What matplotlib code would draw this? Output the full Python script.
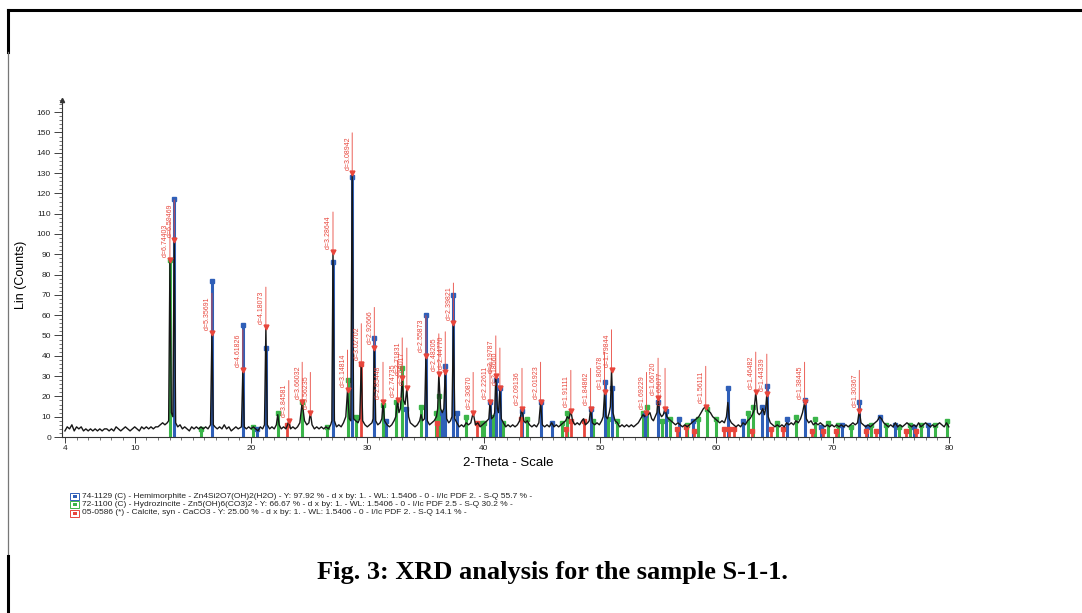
import matplotlib
matplotlib.use('Agg')
import matplotlib.pyplot as plt
from matplotlib.patches import Rectangle
from matplotlib.lines import Line2D
from matplotlib.ticker import MultipleLocator

plt.rcParams['font.family'] = ['Liberation Sans', 'DejaVu Sans']

W, H = 1082, 613

trace = [
    (4.0, 3), (4.2, 5), (4.4, 4), (4.6, 6), (4.8, 3), (5.0, 5), (5.2, 4), (5.4, 5), (5.6, 3), (5.8, 4),
    (6.0, 3), (6.2, 4), (6.4, 3), (6.6, 4), (6.8, 3), (7.0, 4), (7.2, 3), (7.4, 4), (7.6, 4), (7.8, 3),
    (8.0, 4), (8.2, 3), (8.4, 5), (8.6, 4), (8.8, 3), (9.0, 4), (9.2, 5), (9.4, 4), (9.6, 3), (9.8, 4),
    (10.0, 5), (10.2, 4), (10.4, 3), (10.6, 5), (10.8, 4), (11.0, 5), (11.2, 4), (11.4, 5), (11.6, 4),
    (11.8, 5), (12.0, 5), (12.2, 6), (12.4, 7), (12.6, 6), (12.8, 7), (12.92, 8),
    (13.03, 87), (13.15, 12), (13.28, 10), (13.4, 97), (13.52, 7), (13.7, 5), (13.9, 6), (14.1, 4),
    (14.3, 5), (14.5, 4), (14.7, 3), (14.9, 5), (15.1, 4), (15.3, 5), (15.5, 4), (15.7, 5), (15.9, 4),
    (16.1, 5), (16.3, 4), (16.52, 6), (16.64, 51), (16.76, 6), (16.9, 5), (17.1, 4), (17.3, 5), (17.5, 4),
    (17.7, 6), (17.9, 4), (18.1, 5), (18.3, 3), (18.5, 4), (18.7, 5), (18.9, 4), (19.18, 5), (19.3, 33),
    (19.42, 5), (19.6, 4), (19.8, 5), (20.0, 4), (20.2, 5), (20.4, 4), (20.6, 3), (20.8, 5), (21.0, 4),
    (21.16, 6), (21.28, 54), (21.4, 6), (21.6, 4), (21.8, 5), (22.0, 4), (22.18, 6), (22.3, 11),
    (22.42, 6), (22.6, 4), (22.8, 5), (23.0, 4), (23.15, 6), (23.25, 8), (23.4, 4), (23.6, 5), (23.8, 4),
    (24.0, 5), (24.2, 7), (24.4, 17), (24.6, 8), (24.8, 6), (24.98, 7), (25.1, 12), (25.25, 6), (25.45, 4),
    (25.65, 5), (25.85, 4), (26.05, 5), (26.25, 4), (26.45, 5), (26.65, 4), (26.85, 6), (26.95, 8),
    (27.05, 91), (27.17, 8), (27.35, 5), (27.55, 6), (27.75, 5), (27.95, 7), (28.15, 10), (28.3, 23),
    (28.45, 9), (28.58, 8), (28.7, 130), (28.82, 9), (29.0, 8), (29.2, 7), (29.35, 9), (29.48, 36),
    (29.6, 8), (29.8, 6), (30.0, 5), (30.2, 6), (30.4, 7), (30.5, 9), (30.6, 44), (30.72, 8), (30.9, 6),
    (31.1, 7), (31.25, 9), (31.35, 17), (31.48, 8), (31.7, 6), (31.9, 5), (32.1, 6), (32.3, 8), (32.45, 10),
    (32.6, 18), (32.72, 12), (32.85, 14), (33.0, 29), (33.12, 18), (33.25, 16), (33.4, 24), (33.55, 10),
    (33.7, 7), (33.9, 6), (34.1, 5), (34.3, 6), (34.5, 8), (34.62, 11), (34.75, 8), (34.92, 9), (35.04, 40),
    (35.16, 8), (35.35, 6), (35.55, 7), (35.75, 8), (35.95, 10), (36.05, 14), (36.15, 31), (36.3, 14),
    (36.45, 12), (36.58, 14), (36.7, 32), (36.82, 9), (37.0, 7), (37.15, 8), (37.28, 10), (37.4, 56),
    (37.52, 9), (37.7, 7), (37.9, 5), (38.1, 6), (38.3, 5), (38.5, 7), (38.7, 6), (38.9, 7), (39.1, 12),
    (39.3, 6), (39.5, 7), (39.7, 5), (39.9, 6), (40.1, 7), (40.3, 8), (40.45, 9), (40.55, 17), (40.68, 9),
    (40.85, 10), (40.95, 12), (41.05, 30), (41.18, 14), (41.28, 12), (41.4, 24), (41.52, 9), (41.7, 7),
    (41.9, 5), (42.1, 6), (42.3, 5), (42.5, 6), (42.7, 5), (42.9, 6), (43.1, 8), (43.3, 14), (43.45, 8),
    (43.6, 7), (43.75, 8), (43.95, 6), (44.15, 5), (44.35, 6), (44.55, 5), (44.75, 7), (44.9, 17),
    (45.05, 6), (45.25, 5), (45.45, 6), (45.65, 5), (45.85, 7), (46.05, 5), (46.25, 6), (46.45, 5),
    (46.65, 6), (46.85, 7), (47.05, 8), (47.2, 10), (47.35, 9), (47.5, 13), (47.65, 8), (47.85, 6),
    (48.05, 7), (48.25, 6), (48.45, 8), (48.6, 9), (48.75, 6), (48.95, 7), (49.08, 8), (49.2, 14),
    (49.35, 7), (49.55, 6), (49.75, 7), (49.95, 6), (50.15, 8), (50.28, 10), (50.4, 22), (50.52, 10),
    (50.65, 9), (50.8, 12), (50.9, 15), (51.0, 33), (51.12, 12), (51.3, 8), (51.5, 7), (51.7, 5), (51.9, 6),
    (52.1, 5), (52.3, 6), (52.5, 5), (52.7, 6), (52.9, 5), (53.1, 6), (53.3, 7), (53.5, 9), (53.7, 11),
    (53.85, 10), (54.0, 12), (54.15, 11), (54.3, 12), (54.45, 9), (54.6, 8), (54.75, 10), (54.9, 12),
    (55.0, 19), (55.12, 12), (55.3, 10), (55.45, 11), (55.6, 14), (55.75, 10), (55.9, 9), (56.1, 8),
    (56.3, 7), (56.5, 6), (56.7, 7), (56.9, 6), (57.1, 5), (57.3, 6), (57.5, 5), (57.7, 6), (57.9, 7),
    (58.1, 8), (58.3, 9), (58.5, 10), (58.7, 12), (58.9, 14), (59.1, 15), (59.3, 13), (59.5, 12),
    (59.7, 10), (59.9, 9), (60.1, 8), (60.3, 7), (60.5, 8), (60.7, 7), (60.88, 10), (61.0, 17), (61.12, 9),
    (61.3, 7), (61.5, 6), (61.7, 5), (61.9, 6), (62.1, 5), (62.3, 7), (62.5, 6), (62.7, 8), (62.9, 9),
    (63.1, 11), (63.25, 13), (63.4, 22), (63.55, 12), (63.7, 11), (63.85, 12), (64.0, 14), (64.15, 11),
    (64.25, 14), (64.35, 21), (64.47, 10), (64.65, 7), (64.85, 6), (65.05, 5), (65.25, 6), (65.45, 5),
    (65.65, 6), (65.85, 5), (66.05, 7), (66.25, 6), (66.45, 7), (66.65, 6), (66.85, 8), (67.05, 7),
    (67.25, 9), (67.42, 12), (67.6, 17), (67.75, 9), (67.95, 7), (68.15, 8), (68.35, 6), (68.55, 7),
    (68.75, 6), (68.95, 7), (69.15, 6), (69.35, 5), (69.55, 6), (69.75, 5), (69.95, 6), (70.15, 5),
    (70.35, 6), (70.55, 5), (70.75, 6), (70.95, 5), (71.15, 6), (71.35, 5), (71.55, 6), (71.75, 7),
    (71.95, 6), (72.15, 7), (72.3, 13), (72.45, 7), (72.65, 6), (72.85, 5), (73.05, 6), (73.25, 5),
    (73.45, 6), (73.65, 7), (73.85, 8), (74.05, 10), (74.2, 9), (74.4, 7), (74.6, 6), (74.8, 5), (75.0, 6),
    (75.2, 5), (75.4, 7), (75.6, 5), (75.8, 6), (76.0, 5), (76.2, 6), (76.4, 7), (76.6, 6), (76.8, 5),
    (77.0, 6), (77.2, 5), (77.4, 7), (77.6, 5), (77.8, 6), (78.0, 7), (78.2, 6), (78.4, 5), (78.6, 6),
    (78.8, 5), (79.0, 6), (79.2, 7), (79.4, 6), (79.6, 5), (79.8, 7), (80.0, 5),
]
trace_2theta = [p[0] for p in trace]
trace_counts = [p[1] for p in trace]

# reference patterns (stick positions / heights)
hemi_2theta = [13.4, 16.64, 19.3, 20.5, 21.28, 27.05, 28.7, 30.6, 31.6, 33.35, 35.04, 36.4, 36.7,
               37.4, 37.7, 40.55, 41.05, 41.4, 43.3, 44.9, 45.9, 49.2, 50.4, 51.0, 53.9, 55.0, 55.7,
               56.8, 58.0, 61.0, 62.3, 63.9, 64.35, 66.1, 67.6, 69.0, 70.8, 72.3, 73.0, 74.1, 75.4,
               77.0, 78.2]
hemi_counts = [117, 77, 55, 4, 44, 86, 128, 49, 8, 14, 60, 12, 35,
               70, 12, 17, 28, 24, 13, 17, 7, 14, 27, 24, 11, 17, 13,
               9, 8, 24, 8, 15, 25, 9, 18, 5, 6, 17, 5, 10, 6,
               5, 6]
hydro_2theta = [13.0, 15.7, 20.2, 22.3, 24.4, 26.5, 28.3, 29.0, 31.35, 32.5, 33.0, 34.6, 35.9, 36.15,
                38.5, 39.85, 40.0, 40.8, 41.65, 43.7, 46.75, 47.2, 49.4, 50.7, 51.5, 53.7, 54.05, 55.3,
                56.0, 57.5, 58.4, 59.2, 60.0, 62.7, 63.2, 65.2, 66.9, 68.5, 69.6, 70.5, 71.6, 73.3,
                74.6, 75.7, 76.7, 77.6, 78.8, 79.8]
hydro_counts = [87, 4, 5, 12, 17, 5, 28, 10, 16, 17, 34, 15, 12, 20,
                10, 7, 7, 10, 7, 9, 7, 12, 8, 9, 8, 12, 15, 8,
                9, 6, 9, 14, 9, 12, 15, 7, 10, 9, 7, 6, 5, 6,
                6, 5, 6, 6, 6, 8]
calc_2theta = [23.1, 29.45, 36.0, 39.4, 43.2, 47.1, 47.5, 48.6, 56.6, 57.4, 58.1, 60.7, 61.1, 61.5,
               63.1, 64.7, 65.7, 68.2, 69.2, 70.3, 72.9, 73.7, 76.3, 77.2]
calc_counts = [6, 36, 7, 7, 9, 4, 8, 8, 4, 5, 3, 4, 4, 4,
               3, 4, 4, 3, 3, 3, 3, 3, 3, 3]

# peak search results (d-spacing labels)
peak_2theta = [13.03, 13.4, 16.64, 19.3, 21.28, 23.25, 24.4, 25.1, 27.05, 28.3, 28.7, 29.48, 30.6,
               31.35, 32.6, 33.0, 33.4, 35.04, 36.15, 36.7, 37.4, 39.1, 40.55, 41.05, 41.4, 43.3,
               44.9, 47.5, 49.2, 50.4, 51.0, 54.0, 55.0, 55.6, 59.1, 63.4, 64.35, 67.6, 72.3]
peak_counts = [87, 97, 51, 33, 54, 8, 17, 12, 91, 23, 130, 36, 44,
               17, 18, 29, 24, 40, 31, 32, 56, 12, 17, 30, 24, 14,
               17, 13, 14, 22, 33, 12, 19, 14, 15, 22, 21, 17, 13]
peak_labels = ['d=6.74403', 'd=6.59469', 'd=5.35691', 'd=4.61826', 'd=4.18073', 'd=3.84581',
               'd=3.66032', 'd=3.56235', 'd=3.28644', 'd=3.14814', 'd=3.08942', 'd=3.02702',
               'd=2.92666', 'd=2.85448', 'd=2.74735', 'd=2.71831', 'd=2.68017', 'd=2.55873',
               'd=2.48205', 'd=2.44770', 'd=2.39821', 'd=2.30870', 'd=2.22611', 'd=2.19787',
               'd=2.18660', 'd=2.09136', 'd=2.01923', 'd=1.91111', 'd=1.84862', 'd=1.80678',
               'd=1.79844', 'd=1.69229', 'd=1.66720', 'd=1.65077', 'd=1.56111', 'd=1.46482',
               'd=1.44339', 'd=1.38445', 'd=1.30367']

legend_texts = [
    '74-1129 (C) - Hemimorphite - Zn4Si2O7(OH)2(H2O) - Y: 97.92 % - d x by: 1. - WL: 1.5406 - 0 - I/Ic PDF 2. - S-Q 55.7 % -',
    '72-1100 (C) - Hydrozincite - Zn5(OH)6(CO3)2 - Y: 66.67 % - d x by: 1. - WL: 1.5406 - 0 - I/Ic PDF 2.5 - S-Q 30.2 % -',
    '05-0586 (*) - Calcite, syn - CaCO3 - Y: 25.00 % - d x by: 1. - WL: 1.5406 - 0 - I/Ic PDF 2. - S-Q 14.1 % -',
]

BLUE = '#2f5fb8'
GREEN = '#3bb54a'
RED = '#e8463c'
legend_colors = [BLUE, GREEN, RED]


def fx(px):
    return px / W


def fy(py):
    return 1 - py / H


fig = plt.figure(figsize=(W / 100, H / 100), dpi=100)
ax = fig.add_axes([fx(62), fy(437), (950 - 62) / W, (437 - 100) / H])

# reference sticks
ax.vlines(hydro_2theta, 0, hydro_counts, color=GREEN, lw=2.2, zorder=1)
ax.plot(hydro_2theta, hydro_counts, 's', color=GREEN, ms=3, zorder=1)
ax.vlines(hemi_2theta, 0, hemi_counts, color=BLUE, lw=2.2, zorder=2)
ax.plot(hemi_2theta, hemi_counts, 's', color=BLUE, ms=3, zorder=2)
ax.vlines(calc_2theta, 0, calc_counts, color=RED, lw=2.0, zorder=2)
ax.plot(calc_2theta, calc_counts, 's', color=RED, ms=2.6, zorder=2)

# scan
ax.plot(trace_2theta, trace_counts, color='#161616', lw=1.0, zorder=3)

# d-spacing labels
ax.plot(peak_2theta, peak_counts, 'v', color=RED, ms=3.5, zorder=4)
for x, y, lbl in zip(peak_2theta, peak_counts, peak_labels):
    ax.annotate('', xy=(x, y), xytext=(0, 29), textcoords='offset points',
                arrowprops=dict(arrowstyle='-', color=RED, lw=0.6, shrinkA=0, shrinkB=0),
                zorder=4)
    ax.annotate(lbl, xy=(x, y), xytext=(-0.6, 2.5), textcoords='offset points',
                rotation=90, ha='right', va='bottom', fontsize=5, color=RED, zorder=4)

ax.set_xlim(3.75, 80.1)
ax.set_ylim(0, 166)
ax.set_xticks([4, 10, 20, 30, 40, 50, 60, 70, 80])
ax.xaxis.set_minor_locator(MultipleLocator(1))
ax.set_yticks(range(0, 161, 10))
ax.yaxis.set_minor_locator(MultipleLocator(2))
ax.tick_params(axis='x', which='major', direction='out', length=4, width=0.6, pad=1.5,
               labelsize=6, colors='#222222')
ax.tick_params(axis='x', which='minor', direction='out', length=2, width=0.5, color='#444444')
ax.tick_params(axis='y', which='major', direction='out', length=6, width=0.6, pad=2,
               labelsize=6, colors='#222222')
ax.tick_params(axis='y', which='minor', direction='out', length=2.5, width=0.5, color='#444444')
for s in ['top', 'right']:
    ax.spines[s].set_visible(False)
for s in ['left', 'bottom']:
    ax.spines[s].set_linewidth(0.8)
    ax.spines[s].set_color('#333333')
ax.plot([3.75], [166], '^', color='#333333', ms=3, clip_on=False)

fig.text(fx(508), fy(463), '2-Theta - Scale', ha='center', va='center', fontsize=9.5)
fig.text(fx(21), fy(275), 'Lin (Counts)', ha='center', va='center', rotation=90, fontsize=9)

# phase legend
rows_y = [496, 504.5, 513]
for py, txt, col in zip(rows_y, legend_texts, legend_colors):
    fig.add_artist(Rectangle((fx(70), fy(py + 3.5)), 9 / W, 7 / H, transform=fig.transFigure,
                             facecolor='white', edgecolor=col, lw=0.7))
    fig.add_artist(Rectangle((fx(72.5), fy(py + 1.5)), 4.5 / W, 3 / H, transform=fig.transFigure,
                             facecolor=col, edgecolor='none'))
    fig.text(fx(82), fy(py), txt, ha='left', va='center', fontsize=6, color='#222222')

fig.text(fx(552), fy(573), 'Fig. 3: XRD analysis for the sample S-1-1.', ha='center', va='center',
         fontsize=19, fontweight='bold', family=['Liberation Serif', 'DejaVu Serif'])

# page frame
fig.add_artist(Line2D([fx(8), 1], [fy(10), fy(10)], transform=fig.transFigure, color='black', lw=2.2))
fig.add_artist(Line2D([fx(8), fx(8)], [fy(10), fy(52)], transform=fig.transFigure, color='black', lw=2.2))
fig.add_artist(Line2D([fx(8), fx(8)], [fy(52), fy(556)], transform=fig.transFigure, color='#777777', lw=0.9))
fig.add_artist(Line2D([fx(8), fx(8)], [fy(556), 0], transform=fig.transFigure, color='black', lw=2.2))

fig.savefig('out.png', dpi=100)
